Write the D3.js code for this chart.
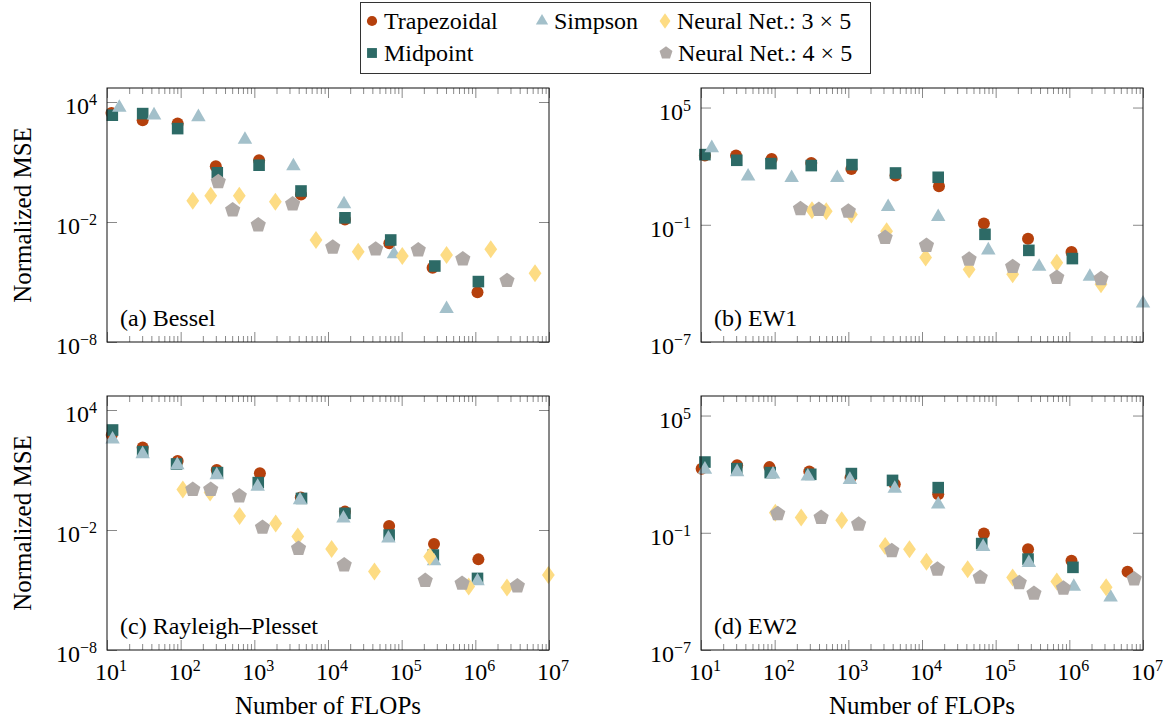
<!DOCTYPE html>
<html>
<head>
<meta charset="utf-8">
<script src="https://cdn.jsdelivr.net/npm/d3@7"></script>
<style>
	body { margin: 0; background: #fff; }
	svg { display: block; }
	svg text { font-family: 'Liberation Serif', 'Times New Roman', serif; }
</style>
</head>
<body>
<svg id="chart" width="1164" height="723"></svg>
<script>
// [FLOPs, normalized MSE]
const besselTrap = [[11.5, 2820], [30.5, 1230], [91, 832], [300, 6.2], [1160, 12.3], [4300, 0.24], [17000, 0.0135], [68000, 8.7e-4], [263000, 5.2e-5], [1.07e6, 3.1e-6]];
const besselMid = [[11.8, 2190], [30.5, 2630], [91, 468], [314, 2.9], [1160, 6.9], [4300, 0.355], [17000, 0.0162], [71000, 1.26e-3], [282000, 6.3e-5], [1.1e6, 1.05e-5]];
const besselSimp = [[14.7, 5250], [43.5, 2190], [174, 1780], [746, 132], [3390, 6.2], [16500, 0.079], [78700, 2.5e-4], [407000, 4.5e-7]];
const besselNN3 = [[146, 0.115], [256, 0.204], [625, 0.204], [1930, 0.102], [6870, 1.26e-3], [25700, 3.3e-4], [102000, 2.0e-4], [407000, 2.24e-4], [1.62e6, 4.4e-4], [6.46e6, 2.75e-5]];
const besselNN4 = [[324, 1.02], [508, 0.040], [1130, 7.1e-3], [3310, 0.079], [11600, 5.5e-4], [44400, 4.4e-4], [168000, 4.0e-4], [676000, 1.41e-4], [2.69e6, 1.17e-5]];

const ew1Trap = [[11.3, 347], [29.9, 347], [91, 234], [314, 145], [1100, 72], [4370, 33], [17000, 9.3], [69200, 0.117], [275000, 0.0195], [1.07e6, 4.0e-3]];
const ew1Mid = [[11.3, 389], [30.6, 200], [89, 135], [314, 107], [1120, 120], [4370, 44.7], [16600, 26.9], [71600, 0.0324], [282000, 4.9e-3], [1.1e6, 1.86e-3]];
const ew1Simp = [[14, 851], [43.6, 30.2], [170, 25.1], [708, 25.1], [3470, 0.83], [16600, 0.257], [79400, 5.0e-3], [389000, 7.2e-4], [1.9e6, 2.24e-4], [1e7, 9.5e-6]];
const ew1NN3 = [[321, 0.55], [501, 0.49], [1100, 0.34], [3310, 0.047], [11200, 2.1e-3], [43600, 5.2e-4], [170000, 2.9e-4], [676000, 1.15e-3], [2.69e6, 8.9e-5]];
const ew1NN4 = [[224, 0.66], [398, 0.60], [1000, 0.49], [3160, 0.022], [11500, 8.7e-3], [43600, 1.7e-3], [170000, 7.2e-4], [676000, 2.0e-4], [2.69e6, 1.74e-4]];

const rpTrap = [[11.6, 562], [30.5, 135], [91, 28.2], [309, 10], [1190, 6.8], [4270, 0.427], [17000, 0.083], [67600, 0.0158], [275000, 2.0e-3], [1.1e6, 3.4e-4]];
const rpMid = [[11.9, 1000], [30.5, 83], [88, 20], [316, 7.4], [1130, 2.34], [4370, 0.38], [17000, 0.068], [67600, 5.6e-3], [269000, 5.6e-4], [1.07e6, 3.8e-5]];
const rpSimp = [[11.9, 339], [30.5, 63], [90, 17.8], [309, 5.6], [1110, 1.48], [4170, 0.316], [16200, 0.038], [66100, 3.8e-3], [275000, 2.8e-4], [1.07e6, 2.8e-5]];
const rpNN3 = [[107, 1.07], [251, 0.74], [631, 0.050], [1950, 0.0214], [3890, 4.7e-3], [11200, 1.12e-3], [42700, 8.3e-5], [240000, 4.7e-4], [813000, 1.48e-5], [2.69e6, 1.32e-5], [9.8e6, 5.6e-5]];
const rpNN4 = [[146, 1.07], [256, 1.07], [625, 0.50], [1290, 0.0135], [3980, 1.2e-3], [16600, 1.78e-4], [209000, 2.95e-5], [661000, 2.14e-5], [3.72e6, 1.58e-5]];

const ew2Trap = [[10.2, 191], [30.9, 282], [85, 229], [295, 138], [1070, 66], [4270, 30.2], [16600, 9.3], [69200, 0.091], [275000, 0.0145], [1.07e6, 3.7e-3], [6.17e6, 1.0e-3]];
const ew2Mid = [[11.3, 417], [30.6, 191], [87, 120], [309, 98], [1100, 107], [3980, 47.9], [16600, 20.4], [64600, 0.028], [275000, 4.5e-3], [1.12e6, 1.7e-3]];
const ew2Simp = [[11.3, 174], [30.9, 129], [95, 98], [282, 78], [1050, 52], [4270, 18.2], [16600, 2.88], [67600, 0.019], [282000, 2.9e-3], [1.15e6, 1.74e-4], [3.63e6, 5.0e-5]];
const ew2NN3 = [[102, 1.05], [229, 0.60], [813, 0.44], [3160, 0.021], [6760, 0.0145], [11500, 3.3e-3], [41700, 1.35e-3], [170000, 5.2e-4], [676000, 3.2e-4], [3.16e6, 1.62e-4]];
const ew2NN4 = [[110, 0.95], [427, 0.60], [1380, 0.275], [3890, 0.012], [16200, 1.35e-3], [61700, 5.2e-4], [209000, 2.75e-4], [331000, 7.9e-5], [832000, 1.45e-4], [7.59e6, 4.3e-4]];

const seriesNames = ['Trapezoidal', 'Midpoint', 'Simpson', 'Neural Net.: 3 × 5', 'Neural Net.: 4 × 5'];
const xTicks = [1e1, 1e2, 1e3, 1e4, 1e5, 1e6, 1e7];
const leftYTicks = [1e-8, 1e-2, 1e4];
const rightYTicks = [1e-7, 1e-1, 1e5];

const colors = ['#b5400c', '#2d6a66', '#a3c0ca', '#fddc84', '#b0aaa7'];

// marker shapes (pgfplots: *, square*, triangle*, diamond*, pentagon*)
const shapes = [
	{ draw(ctx, s) { ctx.arc(0, 0, 6 * s, 0, 2 * Math.PI); } },
	{ draw(ctx, s) { const h = 5.8 * s; ctx.rect(-h, -h, 2 * h, 2 * h); } },
	{ draw(ctx, s) {
		const a = 14.5 * s, h = a * Math.sqrt(3) / 2;
		ctx.moveTo(0, -2 * h / 3); ctx.lineTo(a / 2, h / 3); ctx.lineTo(-a / 2, h / 3); ctx.closePath();
	} },
	{ draw(ctx, s) {
		const w = 6.4 * s, h = 9 * s;
		ctx.moveTo(0, -h); ctx.lineTo(w, 0); ctx.lineTo(0, h); ctx.lineTo(-w, 0); ctx.closePath();
	} },
	{ draw(ctx, s) {
		const r = 8 * s;
		for (let i = 0; i < 5; i++) {
			const t = -Math.PI / 2 + i * 2 * Math.PI / 5;
			if (i === 0) ctx.moveTo(r * Math.cos(t), r * Math.sin(t));
			else ctx.lineTo(r * Math.cos(t), r * Math.sin(t));
		}
		ctx.closePath();
	} }
];

const panelW = 442, panelH = 254;
const panels = [
	{ label: '(a) Bessel', left: 107, top: 88, yDomain: [1e-8, Math.pow(10, 4.7)], yTicks: leftYTicks, xLabels: false, yTitle: true, data: [besselTrap, besselMid, besselSimp, besselNN3, besselNN4] },
	{ label: '(b) EW1', left: 701, top: 88, yDomain: [1e-7, 1e6], yTicks: rightYTicks, xLabels: false, yTitle: false, data: [ew1Trap, ew1Mid, ew1Simp, ew1NN3, ew1NN4] },
	{ label: '(c) Rayleigh–Plesset', left: 107, top: 396, yDomain: [1e-8, Math.pow(10, 4.7)], yTicks: leftYTicks, xLabels: true, yTitle: true, data: [rpTrap, rpMid, rpSimp, rpNN3, rpNN4] },
	{ label: '(d) EW2', left: 701, top: 396, yDomain: [1e-7, 1e6], yTicks: rightYTicks, xLabels: true, yTitle: false, data: [ew2Trap, ew2Mid, ew2Simp, ew2NN3, ew2NN4] }
];

const svg = d3.select('#chart');

function powerLabel(sel) {
	sel.each(function (d) {
		const e = Math.round(Math.log10(d));
		const t = d3.select(this).text(null);
		t.append('tspan').text('10');
		t.append('tspan').attr('font-size', 16).attr('dy', -9).text(String(e).replace('-', '−'));
	});
}

panels.forEach((p) => {
	const x = d3.scaleLog().domain([10, 1e7]).range([0, panelW]);
	const y = d3.scaleLog().domain(p.yDomain).range([panelH, 0]);
	const g = svg.append('g').attr('transform', 'translate(' + p.left + ',' + p.top + ')');

	const minor = x.ticks().filter((v) => xTicks.indexOf(v) < 0);

	// ticks, all pointing inward
	const tickGroups = [
		g.append('g').attr('transform', 'translate(0,' + panelH + ')').call(d3.axisBottom(x).tickValues(minor).tickSize(-6).tickFormat('')),
		g.append('g').attr('transform', 'translate(0,' + panelH + ')').call(d3.axisBottom(x).tickValues(xTicks).tickSize(-10).tickFormat('')),
		g.append('g').call(d3.axisTop(x).tickValues(minor).tickSize(-6).tickFormat('')),
		g.append('g').call(d3.axisTop(x).tickValues(xTicks).tickSize(-10).tickFormat('')),
		g.append('g').call(d3.axisLeft(y).tickValues(p.yTicks).tickSize(-10).tickFormat('')),
		g.append('g').attr('transform', 'translate(' + panelW + ',0)').call(d3.axisRight(y).tickValues(p.yTicks).tickSize(-10).tickFormat(''))
	];
	tickGroups.forEach((a) => {
		a.select('.domain').remove();
		a.selectAll('.tick line').attr('stroke', '#8a8a8a').attr('stroke-width', 1);
	});

	// y tick labels
	g.selectAll('.ylab').data(p.yTicks).enter().append('text')
		.attr('class', 'ylab')
		.attr('x', -10)
		.attr('y', (d) => y(d) + 12)
		.attr('text-anchor', 'end')
		.attr('font-size', 24)
		.call(powerLabel);

	if (p.xLabels) {
		g.selectAll('.xlab').data(xTicks).enter().append('text')
			.attr('class', 'xlab')
			.attr('x', (d) => x(d) + 4)
			.attr('y', panelH + 30)
			.attr('text-anchor', 'middle')
			.attr('font-size', 24)
			.call(powerLabel);
		g.append('text')
			.attr('x', panelW / 2)
			.attr('y', panelH + 64)
			.attr('text-anchor', 'middle')
			.attr('font-size', 25)
			.text('Number of FLOPs');
	}

	if (p.yTitle) {
		g.append('text')
			.attr('transform', 'translate(-76,' + (panelH / 2) + ') rotate(-90)')
			.attr('text-anchor', 'middle')
			.attr('font-size', 25)
			.text('Normalized MSE');
	}

	g.append('text')
		.attr('x', 13)
		.attr('y', panelH - 16)
		.attr('font-size', 24)
		.text(p.label);

	// markers (not clipped, like pgfplots)
	p.data.forEach((series, i) => {
		g.append('g').selectAll('path')
			.data(series)
			.enter().append('path')
			.attr('transform', (d) => 'translate(' + x(d[0]) + ',' + y(d[1]) + ')')
			.attr('d', d3.symbol().type(shapes[i]).size(1))
			.attr('fill', colors[i]);
	});

	g.append('rect')
		.attr('width', panelW)
		.attr('height', panelH)
		.attr('fill', 'none')
		.attr('stroke', '#111')
		.attr('stroke-width', 1);
});

// legend, three columns
const legendItems = [
	{ idx: 0, x: 372, y: 21 },
	{ idx: 1, x: 372, y: 53 },
	{ idx: 2, x: 542, y: 21 },
	{ idx: 3, x: 665, y: 21 },
	{ idx: 4, x: 666, y: 53 }
];
const legend = svg.append('g');
legend.append('rect')
	.attr('x', 360.5).attr('y', 2.5)
	.attr('width', 510).attr('height', 71)
	.attr('fill', '#fff')
	.attr('stroke', '#333');
legendItems.forEach((it) => {
	legend.append('path')
		.attr('transform', 'translate(' + it.x + ',' + it.y + ')')
		.attr('d', d3.symbol().type(shapes[it.idx]).size(0.85))
		.attr('fill', colors[it.idx]);
	legend.append('text')
		.attr('x', it.x + 12)
		.attr('y', it.y + 7.5)
		.attr('font-size', 24)
		.text(seriesNames[it.idx]);
});
</script>
</body>
</html>
